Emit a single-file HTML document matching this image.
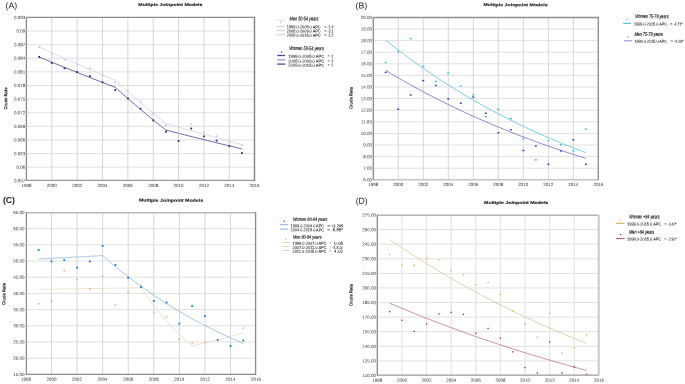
<!DOCTYPE html>
<html><head><meta charset="utf-8"><style>
html,body{margin:0;padding:0;background:#fff;width:685px;height:384px;overflow:hidden}
svg{display:block;will-change:transform;filter:blur(0.3px)}
text{font-family:"Liberation Sans", sans-serif;text-rendering:geometricPrecision}
</style></head><body>
<svg width="685" height="384" viewBox="0 0 685 384">
<rect width="685" height="384" fill="#fff"/>
<clipPath id="lh"><rect x="0" y="0" width="343" height="384"/></clipPath>
<line x1="26.40" y1="31.02" x2="254.50" y2="31.02" stroke="#e0e0e0" stroke-width="1"/>
<line x1="26.40" y1="44.63" x2="254.50" y2="44.63" stroke="#e0e0e0" stroke-width="1"/>
<line x1="26.40" y1="58.25" x2="254.50" y2="58.25" stroke="#e0e0e0" stroke-width="1"/>
<line x1="26.40" y1="71.87" x2="254.50" y2="71.87" stroke="#e0e0e0" stroke-width="1"/>
<line x1="26.40" y1="85.48" x2="254.50" y2="85.48" stroke="#e0e0e0" stroke-width="1"/>
<line x1="26.40" y1="99.10" x2="254.50" y2="99.10" stroke="#e0e0e0" stroke-width="1"/>
<line x1="26.40" y1="112.72" x2="254.50" y2="112.72" stroke="#e0e0e0" stroke-width="1"/>
<line x1="26.40" y1="126.33" x2="254.50" y2="126.33" stroke="#e0e0e0" stroke-width="1"/>
<line x1="26.40" y1="139.95" x2="254.50" y2="139.95" stroke="#e0e0e0" stroke-width="1"/>
<line x1="26.40" y1="153.57" x2="254.50" y2="153.57" stroke="#e0e0e0" stroke-width="1"/>
<line x1="26.40" y1="167.18" x2="254.50" y2="167.18" stroke="#e0e0e0" stroke-width="1"/>
<line x1="51.84" y1="17.40" x2="51.84" y2="180.40" stroke="#d6d6d6" stroke-width="1"/>
<line x1="77.19" y1="17.40" x2="77.19" y2="180.40" stroke="#d6d6d6" stroke-width="1"/>
<line x1="102.53" y1="17.40" x2="102.53" y2="180.40" stroke="#d6d6d6" stroke-width="1"/>
<line x1="127.88" y1="17.40" x2="127.88" y2="180.40" stroke="#d6d6d6" stroke-width="1"/>
<line x1="153.22" y1="17.40" x2="153.22" y2="180.40" stroke="#d6d6d6" stroke-width="1"/>
<line x1="178.57" y1="17.40" x2="178.57" y2="180.40" stroke="#d6d6d6" stroke-width="1"/>
<line x1="203.91" y1="17.40" x2="203.91" y2="180.40" stroke="#d6d6d6" stroke-width="1"/>
<line x1="229.26" y1="17.40" x2="229.26" y2="180.40" stroke="#d6d6d6" stroke-width="1"/>
<text x="25.20" y="19.00" text-anchor="end" font-size="4.5" fill="#333333" transform="rotate(0.2 25.20 19.00)">0.093</text>
<text x="25.20" y="32.62" text-anchor="end" font-size="4.5" fill="#333333" transform="rotate(0.2 25.20 32.62)">0.09</text>
<text x="25.20" y="46.23" text-anchor="end" font-size="4.5" fill="#333333" transform="rotate(0.2 25.20 46.23)">0.087</text>
<text x="25.20" y="59.85" text-anchor="end" font-size="4.5" fill="#333333" transform="rotate(0.2 25.20 59.85)">0.084</text>
<text x="25.20" y="73.47" text-anchor="end" font-size="4.5" fill="#333333" transform="rotate(0.2 25.20 73.47)">0.081</text>
<text x="25.20" y="87.08" text-anchor="end" font-size="4.5" fill="#333333" transform="rotate(0.2 25.20 87.08)">0.078</text>
<text x="25.20" y="100.70" text-anchor="end" font-size="4.5" fill="#333333" transform="rotate(0.2 25.20 100.70)">0.075</text>
<text x="25.20" y="114.32" text-anchor="end" font-size="4.5" fill="#333333" transform="rotate(0.2 25.20 114.32)">0.072</text>
<text x="25.20" y="127.93" text-anchor="end" font-size="4.5" fill="#333333" transform="rotate(0.2 25.20 127.93)">0.069</text>
<text x="25.20" y="141.55" text-anchor="end" font-size="4.5" fill="#333333" transform="rotate(0.2 25.20 141.55)">0.066</text>
<text x="25.20" y="155.17" text-anchor="end" font-size="4.5" fill="#333333" transform="rotate(0.2 25.20 155.17)">0.063</text>
<text x="25.20" y="168.78" text-anchor="end" font-size="4.5" fill="#333333" transform="rotate(0.2 25.20 168.78)">0.06</text>
<text x="25.20" y="182.40" text-anchor="end" font-size="4.5" fill="#333333" transform="rotate(0.2 25.20 182.40)">0.057</text>
<text x="26.50" y="187.10" text-anchor="middle" font-size="4.5" fill="#333333" transform="rotate(0.2 26.50 187.10)">1998</text>
<text x="51.84" y="187.10" text-anchor="middle" font-size="4.5" fill="#333333" transform="rotate(0.2 51.84 187.10)">2000</text>
<text x="77.19" y="187.10" text-anchor="middle" font-size="4.5" fill="#333333" transform="rotate(0.2 77.19 187.10)">2002</text>
<text x="102.53" y="187.10" text-anchor="middle" font-size="4.5" fill="#333333" transform="rotate(0.2 102.53 187.10)">2004</text>
<text x="127.88" y="187.10" text-anchor="middle" font-size="4.5" fill="#333333" transform="rotate(0.2 127.88 187.10)">2006</text>
<text x="153.22" y="187.10" text-anchor="middle" font-size="4.5" fill="#333333" transform="rotate(0.2 153.22 187.10)">2008</text>
<text x="178.57" y="187.10" text-anchor="middle" font-size="4.5" fill="#333333" transform="rotate(0.2 178.57 187.10)">2010</text>
<text x="203.91" y="187.10" text-anchor="middle" font-size="4.5" fill="#333333" transform="rotate(0.2 203.91 187.10)">2012</text>
<text x="229.26" y="187.10" text-anchor="middle" font-size="4.5" fill="#333333" transform="rotate(0.2 229.26 187.10)">2014</text>
<text x="254.60" y="187.10" text-anchor="middle" font-size="4.5" fill="#333333" transform="rotate(0.2 254.60 187.10)">2016</text>
<polyline points="39.17,47.00 42.97,48.73 46.78,50.45 50.58,52.17 54.38,53.88 58.18,55.58 61.98,57.27 65.78,58.96 69.59,60.63 73.39,62.30 77.19,63.97 80.99,65.62 84.79,67.27 88.59,68.91 92.40,70.55 96.20,72.17 100.00,73.79 103.80,75.41 107.60,77.01 111.40,78.61 115.21,80.20 115.21,80.20 117.74,82.50 120.27,84.78 122.81,87.05 125.34,89.31 127.88,91.55 130.41,93.78 132.95,95.99 135.48,98.19 138.02,100.37 140.55,102.54 143.08,104.70 145.62,106.84 148.15,108.97 150.69,111.09 153.22,113.19 155.76,115.28 158.29,117.35 160.83,119.42 163.36,121.46 165.89,123.50 165.89,123.50 169.70,124.59 173.50,125.68 177.30,126.76 181.10,127.84 184.90,128.91 188.70,129.98 192.51,131.05 196.31,132.12 200.11,133.18 203.91,134.23 207.71,135.29 211.51,136.33 215.32,137.38 219.12,138.42 222.92,139.46 226.72,140.50 230.52,141.53 234.32,142.56 238.13,143.58 241.93,144.60" fill="none" stroke="#c4d0e6" stroke-width="0.7"/>
<polyline points="39.17,57.00 42.97,58.58 46.78,60.14 50.58,61.71 54.38,63.26 58.18,64.81 61.98,66.35 65.78,67.89 69.59,69.42 73.39,70.94 77.19,72.46 80.99,73.97 84.79,75.48 88.59,76.98 92.40,78.47 96.20,79.96 100.00,81.44 103.80,82.91 107.60,84.38 111.40,85.84 115.21,87.30 115.21,87.30 117.74,89.57 120.27,91.83 122.81,94.08 125.34,96.31 127.88,98.53 130.41,100.73 132.95,102.91 135.48,105.09 138.02,107.25 140.55,109.39 143.08,111.52 145.62,113.64 148.15,115.75 150.69,117.84 153.22,119.91 155.76,121.98 158.29,124.03 160.83,126.07 163.36,128.09 165.89,130.10 165.89,130.10 169.70,131.07 173.50,132.03 177.30,133.00 181.10,133.95 184.90,134.91 188.70,135.86 192.51,136.81 196.31,137.76 200.11,138.71 203.91,139.65 207.71,140.59 211.51,141.52 215.32,142.45 219.12,143.38 222.92,144.31 226.72,145.23 230.52,146.15 234.32,147.07 238.13,147.99 241.93,148.90" fill="none" stroke="#505098" stroke-width="0.85"/>
<path d="M39.17,45.84L40.43,48.09L37.91,48.09Z" fill="#bcc8e2"/>
<path d="M51.84,52.54L53.10,54.79L50.58,54.79Z" fill="#bcc8e2"/>
<path d="M64.52,58.14L65.78,60.39L63.26,60.39Z" fill="#bcc8e2"/>
<path d="M77.19,62.94L78.45,65.19L75.93,65.19Z" fill="#bcc8e2"/>
<path d="M89.86,67.04L91.12,69.29L88.60,69.29Z" fill="#bcc8e2"/>
<path d="M102.53,73.54L103.79,75.79L101.27,75.79Z" fill="#bcc8e2"/>
<path d="M115.21,80.84L116.47,83.09L113.95,83.09Z" fill="#bcc8e2"/>
<path d="M127.88,89.94L129.14,92.19L126.62,92.19Z" fill="#bcc8e2"/>
<path d="M140.55,100.34L141.81,102.59L139.29,102.59Z" fill="#bcc8e2"/>
<path d="M153.22,112.04L154.48,114.29L151.96,114.29Z" fill="#bcc8e2"/>
<path d="M165.89,123.64L167.15,125.89L164.63,125.89Z" fill="#bcc8e2"/>
<path d="M178.57,132.34L179.83,134.59L177.31,134.59Z" fill="#bcc8e2"/>
<path d="M191.24,122.54L192.50,124.79L189.98,124.79Z" fill="#bcc8e2"/>
<path d="M203.91,130.84L205.17,133.09L202.65,133.09Z" fill="#bcc8e2"/>
<path d="M216.58,134.74L217.84,136.99L215.32,136.99Z" fill="#bcc8e2"/>
<path d="M229.26,140.64L230.52,142.89L228.00,142.89Z" fill="#bcc8e2"/>
<path d="M241.93,143.54L243.19,145.79L240.67,145.79Z" fill="#bcc8e2"/>
<rect x="38.27" y="56.00" width="1.80" height="1.80" fill="#2c2c7c"/>
<rect x="50.94" y="62.00" width="1.80" height="1.80" fill="#2c2c7c"/>
<rect x="63.62" y="67.40" width="1.80" height="1.80" fill="#2c2c7c"/>
<rect x="76.29" y="71.10" width="1.80" height="1.80" fill="#2c2c7c"/>
<rect x="88.96" y="75.20" width="1.80" height="1.80" fill="#2c2c7c"/>
<rect x="101.63" y="81.40" width="1.80" height="1.80" fill="#2c2c7c"/>
<rect x="114.31" y="89.10" width="1.80" height="1.80" fill="#2c2c7c"/>
<rect x="126.98" y="97.50" width="1.80" height="1.80" fill="#2c2c7c"/>
<rect x="139.65" y="107.80" width="1.80" height="1.80" fill="#2c2c7c"/>
<rect x="152.32" y="119.50" width="1.80" height="1.80" fill="#2c2c7c"/>
<rect x="164.99" y="130.80" width="1.80" height="1.80" fill="#2c2c7c"/>
<rect x="177.67" y="140.00" width="1.80" height="1.80" fill="#2c2c7c"/>
<rect x="190.34" y="127.60" width="1.80" height="1.80" fill="#2c2c7c"/>
<rect x="203.01" y="135.50" width="1.80" height="1.80" fill="#2c2c7c"/>
<rect x="215.68" y="139.70" width="1.80" height="1.80" fill="#2c2c7c"/>
<rect x="228.36" y="145.00" width="1.80" height="1.80" fill="#2c2c7c"/>
<rect x="241.03" y="152.20" width="1.80" height="1.80" fill="#2c2c7c"/>
<line x1="26.40" y1="17.40" x2="254.50" y2="17.40" stroke="#8c8c8c" stroke-width="1.3"/>
<line x1="26.40" y1="180.40" x2="254.50" y2="180.40" stroke="#999999" stroke-width="1.2"/>
<line x1="254.50" y1="16.80" x2="254.50" y2="181.00" stroke="#828282" stroke-width="1.4"/>
<line x1="26.40" y1="16.80" x2="26.40" y2="181.00" stroke="#8a8a8a" stroke-width="1.3"/>
<text x="138.30" y="5.90" font-size="4.2" font-weight="bold" fill="#1a1a1a" stroke="#1a1a1a" stroke-width="0.12" textLength="64.2" lengthAdjust="spacingAndGlyphs" transform="rotate(0.2 138.30 5.90)">Multiple Joinpoint Models</text>
<text x="5.6" y="8.5" font-size="8.7" fill="#222"  transform="rotate(0.2 5.6 8.5)">(A)</text>
<text transform="translate(7.2,98.5) rotate(-89.8)" x="-11" y="0" font-size="4.5" font-weight="bold" fill="#1a1a1a" stroke="#1a1a1a" stroke-width="0.08" textLength="22" lengthAdjust="spacingAndGlyphs">Crude Rate</text>
<line x1="373.30" y1="29.00" x2="598.30" y2="29.00" stroke="#e0e0e0" stroke-width="1"/>
<line x1="373.30" y1="40.60" x2="598.30" y2="40.60" stroke="#e0e0e0" stroke-width="1"/>
<line x1="373.30" y1="52.20" x2="598.30" y2="52.20" stroke="#e0e0e0" stroke-width="1"/>
<line x1="373.30" y1="63.80" x2="598.30" y2="63.80" stroke="#e0e0e0" stroke-width="1"/>
<line x1="373.30" y1="75.40" x2="598.30" y2="75.40" stroke="#e0e0e0" stroke-width="1"/>
<line x1="373.30" y1="87.00" x2="598.30" y2="87.00" stroke="#e0e0e0" stroke-width="1"/>
<line x1="373.30" y1="98.60" x2="598.30" y2="98.60" stroke="#e0e0e0" stroke-width="1"/>
<line x1="373.30" y1="110.20" x2="598.30" y2="110.20" stroke="#e0e0e0" stroke-width="1"/>
<line x1="373.30" y1="121.80" x2="598.30" y2="121.80" stroke="#e0e0e0" stroke-width="1"/>
<line x1="373.30" y1="133.40" x2="598.30" y2="133.40" stroke="#e0e0e0" stroke-width="1"/>
<line x1="373.30" y1="145.00" x2="598.30" y2="145.00" stroke="#e0e0e0" stroke-width="1"/>
<line x1="373.30" y1="156.60" x2="598.30" y2="156.60" stroke="#e0e0e0" stroke-width="1"/>
<line x1="373.30" y1="168.20" x2="598.30" y2="168.20" stroke="#e0e0e0" stroke-width="1"/>
<line x1="398.22" y1="17.50" x2="398.22" y2="179.70" stroke="#d6d6d6" stroke-width="1"/>
<line x1="423.24" y1="17.50" x2="423.24" y2="179.70" stroke="#d6d6d6" stroke-width="1"/>
<line x1="448.27" y1="17.50" x2="448.27" y2="179.70" stroke="#d6d6d6" stroke-width="1"/>
<line x1="473.29" y1="17.50" x2="473.29" y2="179.70" stroke="#d6d6d6" stroke-width="1"/>
<line x1="498.31" y1="17.50" x2="498.31" y2="179.70" stroke="#d6d6d6" stroke-width="1"/>
<line x1="523.33" y1="17.50" x2="523.33" y2="179.70" stroke="#d6d6d6" stroke-width="1"/>
<line x1="548.36" y1="17.50" x2="548.36" y2="179.70" stroke="#d6d6d6" stroke-width="1"/>
<line x1="573.38" y1="17.50" x2="573.38" y2="179.70" stroke="#d6d6d6" stroke-width="1"/>
<text x="371.90" y="19.00" text-anchor="end" font-size="4.5" fill="#333333" transform="rotate(0.2 371.90 19.00)">20.00</text>
<text x="371.90" y="30.60" text-anchor="end" font-size="4.5" fill="#333333" transform="rotate(0.2 371.90 30.60)">19.00</text>
<text x="371.90" y="42.20" text-anchor="end" font-size="4.5" fill="#333333" transform="rotate(0.2 371.90 42.20)">18.00</text>
<text x="371.90" y="53.80" text-anchor="end" font-size="4.5" fill="#333333" transform="rotate(0.2 371.90 53.80)">17.00</text>
<text x="371.90" y="65.40" text-anchor="end" font-size="4.5" fill="#333333" transform="rotate(0.2 371.90 65.40)">16.00</text>
<text x="371.90" y="77.00" text-anchor="end" font-size="4.5" fill="#333333" transform="rotate(0.2 371.90 77.00)">15.00</text>
<text x="371.90" y="88.60" text-anchor="end" font-size="4.5" fill="#333333" transform="rotate(0.2 371.90 88.60)">14.00</text>
<text x="371.90" y="100.20" text-anchor="end" font-size="4.5" fill="#333333" transform="rotate(0.2 371.90 100.20)">13.00</text>
<text x="371.90" y="111.80" text-anchor="end" font-size="4.5" fill="#333333" transform="rotate(0.2 371.90 111.80)">12.00</text>
<text x="371.90" y="123.40" text-anchor="end" font-size="4.5" fill="#333333" transform="rotate(0.2 371.90 123.40)">11.00</text>
<text x="371.90" y="135.00" text-anchor="end" font-size="4.5" fill="#333333" transform="rotate(0.2 371.90 135.00)">10.00</text>
<text x="371.90" y="146.60" text-anchor="end" font-size="4.5" fill="#333333" transform="rotate(0.2 371.90 146.60)">9.00</text>
<text x="371.90" y="158.20" text-anchor="end" font-size="4.5" fill="#333333" transform="rotate(0.2 371.90 158.20)">8.00</text>
<text x="371.90" y="169.80" text-anchor="end" font-size="4.5" fill="#333333" transform="rotate(0.2 371.90 169.80)">7.00</text>
<text x="371.90" y="181.40" text-anchor="end" font-size="4.5" fill="#333333" transform="rotate(0.2 371.90 181.40)">6.00</text>
<text x="373.20" y="186.10" text-anchor="middle" font-size="4.5" fill="#333333" transform="rotate(0.2 373.20 186.10)">1998</text>
<text x="398.22" y="186.10" text-anchor="middle" font-size="4.5" fill="#333333" transform="rotate(0.2 398.22 186.10)">2000</text>
<text x="423.24" y="186.10" text-anchor="middle" font-size="4.5" fill="#333333" transform="rotate(0.2 423.24 186.10)">2002</text>
<text x="448.27" y="186.10" text-anchor="middle" font-size="4.5" fill="#333333" transform="rotate(0.2 448.27 186.10)">2004</text>
<text x="473.29" y="186.10" text-anchor="middle" font-size="4.5" fill="#333333" transform="rotate(0.2 473.29 186.10)">2006</text>
<text x="498.31" y="186.10" text-anchor="middle" font-size="4.5" fill="#333333" transform="rotate(0.2 498.31 186.10)">2008</text>
<text x="523.33" y="186.10" text-anchor="middle" font-size="4.5" fill="#333333" transform="rotate(0.2 523.33 186.10)">2010</text>
<text x="548.36" y="186.10" text-anchor="middle" font-size="4.5" fill="#333333" transform="rotate(0.2 548.36 186.10)">2012</text>
<text x="573.38" y="186.10" text-anchor="middle" font-size="4.5" fill="#333333" transform="rotate(0.2 573.38 186.10)">2014</text>
<text x="598.40" y="186.10" text-anchor="middle" font-size="4.5" fill="#333333" transform="rotate(0.2 598.40 186.10)">2016</text>
<polyline points="385.71,40.14 391.97,45.12 398.22,49.99 404.48,54.75 410.73,59.38 416.99,63.91 423.24,68.33 429.50,72.65 435.76,76.86 442.01,80.97 448.27,84.99 454.52,88.91 460.78,92.73 467.03,96.47 473.29,100.11 479.54,103.67 485.80,107.14 492.06,110.53 498.31,113.84 504.57,117.07 510.82,120.23 517.08,123.31 523.33,126.31 529.59,129.25 535.84,132.11 542.10,134.91 548.36,137.63 554.61,140.30 560.87,142.90 567.12,145.44 573.38,147.91 579.63,150.33 585.89,152.69" fill="none" stroke="#58c8dc" stroke-width="0.8"/>
<polyline points="385.71,70.41 391.97,74.16 398.22,77.82 404.48,81.41 410.73,84.93 416.99,88.37 423.24,91.73 429.50,95.03 435.76,98.26 442.01,101.42 448.27,104.52 454.52,107.55 460.78,110.52 467.03,113.42 473.29,116.27 479.54,119.05 485.80,121.78 492.06,124.45 498.31,127.06 504.57,129.62 510.82,132.13 517.08,134.58 523.33,136.98 529.59,139.33 535.84,141.64 542.10,143.89 548.36,146.10 554.61,148.26 560.87,150.37 567.12,152.45 573.38,154.47 579.63,156.46 585.89,158.40" fill="none" stroke="#7a6cc8" stroke-width="0.8"/>
<rect x="384.71" y="71.70" width="2.00" height="1.40" fill="#3a3ad0"/>
<rect x="397.22" y="108.59" width="2.00" height="1.40" fill="#3a3ad0"/>
<rect x="409.73" y="94.21" width="2.00" height="1.40" fill="#3a3ad0"/>
<rect x="422.24" y="79.94" width="2.00" height="1.40" fill="#3a3ad0"/>
<rect x="434.76" y="84.81" width="2.00" height="1.40" fill="#3a3ad0"/>
<rect x="447.27" y="98.15" width="2.00" height="1.40" fill="#3a3ad0"/>
<rect x="459.78" y="102.44" width="2.00" height="1.40" fill="#3a3ad0"/>
<rect x="472.29" y="96.41" width="2.00" height="1.40" fill="#3a3ad0"/>
<rect x="484.80" y="112.53" width="2.00" height="1.40" fill="#3a3ad0"/>
<rect x="497.31" y="132.02" width="2.00" height="1.40" fill="#3a3ad0"/>
<rect x="509.82" y="129.01" width="2.00" height="1.40" fill="#3a3ad0"/>
<rect x="522.33" y="149.77" width="2.00" height="1.40" fill="#3a3ad0"/>
<rect x="534.84" y="145.36" width="2.00" height="1.40" fill="#3a3ad0"/>
<rect x="547.36" y="163.57" width="2.00" height="1.40" fill="#3a3ad0"/>
<rect x="559.87" y="150.23" width="2.00" height="1.40" fill="#3a3ad0"/>
<rect x="572.38" y="139.10" width="2.00" height="1.40" fill="#3a3ad0"/>
<rect x="584.89" y="163.57" width="2.00" height="1.40" fill="#3a3ad0"/>
<rect x="384.71" y="61.84" width="2.00" height="1.40" fill="#35c0e8"/>
<rect x="397.22" y="50.94" width="2.00" height="1.40" fill="#35c0e8"/>
<rect x="409.73" y="37.83" width="2.00" height="1.40" fill="#35c0e8"/>
<rect x="422.24" y="65.67" width="2.00" height="1.40" fill="#35c0e8"/>
<rect x="434.76" y="80.75" width="2.00" height="1.40" fill="#35c0e8"/>
<rect x="447.27" y="72.63" width="2.00" height="1.40" fill="#35c0e8"/>
<rect x="459.78" y="85.39" width="2.00" height="1.40" fill="#35c0e8"/>
<rect x="472.29" y="94.09" width="2.00" height="1.40" fill="#35c0e8"/>
<rect x="484.80" y="116.01" width="2.00" height="1.40" fill="#35c0e8"/>
<rect x="497.31" y="108.71" width="2.00" height="1.40" fill="#35c0e8"/>
<rect x="509.82" y="117.99" width="2.00" height="1.40" fill="#35c0e8"/>
<rect x="522.33" y="138.05" width="2.00" height="1.40" fill="#35c0e8"/>
<rect x="534.84" y="159.17" width="2.00" height="1.40" fill="#35c0e8"/>
<rect x="547.36" y="139.91" width="2.00" height="1.40" fill="#35c0e8"/>
<rect x="559.87" y="144.09" width="2.00" height="1.40" fill="#35c0e8"/>
<rect x="572.38" y="150.23" width="2.00" height="1.40" fill="#35c0e8"/>
<rect x="584.89" y="128.43" width="2.00" height="1.40" fill="#35c0e8"/>
<line x1="373.30" y1="17.50" x2="598.30" y2="17.50" stroke="#909090" stroke-width="1.3"/>
<line x1="373.30" y1="179.70" x2="598.30" y2="179.70" stroke="#c4c4c4" stroke-width="1.6"/>
<line x1="598.30" y1="16.90" x2="598.30" y2="180.30" stroke="#8a8a8a" stroke-width="1.3"/>
<line x1="373.30" y1="16.90" x2="373.30" y2="180.30" stroke="#8a8a8a" stroke-width="1.3"/>
<text x="483.40" y="6.10" font-size="4.2" font-weight="bold" fill="#1a1a1a" stroke="#1a1a1a" stroke-width="0.12" textLength="64.2" lengthAdjust="spacingAndGlyphs" transform="rotate(0.2 483.40 6.10)">Multiple Joinpoint Models</text>
<text x="355.6" y="8.6" font-size="8.7" fill="#222"  transform="rotate(0.2 355.6 8.6)">(B)</text>
<text transform="translate(352.6,98) rotate(-89.8)" x="-11" y="0" font-size="4.5" font-weight="bold" fill="#1a1a1a" stroke="#1a1a1a" stroke-width="0.08" textLength="22" lengthAdjust="spacingAndGlyphs">Crude Rate</text>
<line x1="26.40" y1="228.60" x2="255.60" y2="228.60" stroke="#e0e0e0" stroke-width="1"/>
<line x1="26.40" y1="244.80" x2="255.60" y2="244.80" stroke="#e0e0e0" stroke-width="1"/>
<line x1="26.40" y1="261.00" x2="255.60" y2="261.00" stroke="#e0e0e0" stroke-width="1"/>
<line x1="26.40" y1="277.20" x2="255.60" y2="277.20" stroke="#e0e0e0" stroke-width="1"/>
<line x1="26.40" y1="293.40" x2="255.60" y2="293.40" stroke="#e0e0e0" stroke-width="1"/>
<line x1="26.40" y1="309.60" x2="255.60" y2="309.60" stroke="#e0e0e0" stroke-width="1"/>
<line x1="26.40" y1="325.80" x2="255.60" y2="325.80" stroke="#e0e0e0" stroke-width="1"/>
<line x1="26.40" y1="342.00" x2="255.60" y2="342.00" stroke="#e0e0e0" stroke-width="1"/>
<line x1="26.40" y1="358.20" x2="255.60" y2="358.20" stroke="#e0e0e0" stroke-width="1"/>
<line x1="51.48" y1="212.70" x2="51.48" y2="374.30" stroke="#d6d6d6" stroke-width="1"/>
<line x1="77.06" y1="212.70" x2="77.06" y2="374.30" stroke="#d6d6d6" stroke-width="1"/>
<line x1="102.63" y1="212.70" x2="102.63" y2="374.30" stroke="#d6d6d6" stroke-width="1"/>
<line x1="128.21" y1="212.70" x2="128.21" y2="374.30" stroke="#d6d6d6" stroke-width="1"/>
<line x1="153.79" y1="212.70" x2="153.79" y2="374.30" stroke="#d6d6d6" stroke-width="1"/>
<line x1="179.37" y1="212.70" x2="179.37" y2="374.30" stroke="#d6d6d6" stroke-width="1"/>
<line x1="204.94" y1="212.70" x2="204.94" y2="374.30" stroke="#d6d6d6" stroke-width="1"/>
<line x1="230.52" y1="212.70" x2="230.52" y2="374.30" stroke="#d6d6d6" stroke-width="1"/>
<text x="24.60" y="214.00" text-anchor="end" font-size="4.5" fill="#333333" transform="rotate(0.2 24.60 214.00)">65.00</text>
<text x="24.60" y="230.20" text-anchor="end" font-size="4.5" fill="#333333" transform="rotate(0.2 24.60 230.20)">60.00</text>
<text x="24.60" y="246.40" text-anchor="end" font-size="4.5" fill="#333333" transform="rotate(0.2 24.60 246.40)">55.00</text>
<text x="24.60" y="262.60" text-anchor="end" font-size="4.5" fill="#333333" transform="rotate(0.2 24.60 262.60)">50.00</text>
<text x="24.60" y="278.80" text-anchor="end" font-size="4.5" fill="#333333" transform="rotate(0.2 24.60 278.80)">45.00</text>
<text x="24.60" y="295.00" text-anchor="end" font-size="4.5" fill="#333333" transform="rotate(0.2 24.60 295.00)">40.00</text>
<text x="24.60" y="311.20" text-anchor="end" font-size="4.5" fill="#333333" transform="rotate(0.2 24.60 311.20)">35.00</text>
<text x="24.60" y="327.40" text-anchor="end" font-size="4.5" fill="#333333" transform="rotate(0.2 24.60 327.40)">30.00</text>
<text x="24.60" y="343.60" text-anchor="end" font-size="4.5" fill="#333333" transform="rotate(0.2 24.60 343.60)">25.00</text>
<text x="24.60" y="359.80" text-anchor="end" font-size="4.5" fill="#333333" transform="rotate(0.2 24.60 359.80)">20.00</text>
<text x="24.60" y="376.00" text-anchor="end" font-size="4.5" fill="#333333" transform="rotate(0.2 24.60 376.00)">15.00</text>
<text x="25.90" y="380.70" text-anchor="middle" font-size="4.5" fill="#333333" transform="rotate(0.2 25.90 380.70)">1998</text>
<text x="51.48" y="380.70" text-anchor="middle" font-size="4.5" fill="#333333" transform="rotate(0.2 51.48 380.70)">2000</text>
<text x="77.06" y="380.70" text-anchor="middle" font-size="4.5" fill="#333333" transform="rotate(0.2 77.06 380.70)">2002</text>
<text x="102.63" y="380.70" text-anchor="middle" font-size="4.5" fill="#333333" transform="rotate(0.2 102.63 380.70)">2004</text>
<text x="128.21" y="380.70" text-anchor="middle" font-size="4.5" fill="#333333" transform="rotate(0.2 128.21 380.70)">2006</text>
<text x="153.79" y="380.70" text-anchor="middle" font-size="4.5" fill="#333333" transform="rotate(0.2 153.79 380.70)">2008</text>
<text x="179.37" y="380.70" text-anchor="middle" font-size="4.5" fill="#333333" transform="rotate(0.2 179.37 380.70)">2010</text>
<text x="204.94" y="380.70" text-anchor="middle" font-size="4.5" fill="#333333" transform="rotate(0.2 204.94 380.70)">2012</text>
<text x="230.52" y="380.70" text-anchor="middle" font-size="4.5" fill="#333333" transform="rotate(0.2 230.52 380.70)">2014</text>
<text x="256.10" y="380.70" text-anchor="middle" font-size="4.5" fill="#333333" transform="rotate(0.2 256.10 380.70)">2016</text>
<polyline points="38.69,289.40 43.80,289.32 48.92,289.24 54.04,289.16 59.15,289.08 64.27,289.00 69.38,288.92 74.50,288.84 79.61,288.76 84.73,288.68 89.84,288.60 94.96,288.52 100.08,288.44 105.19,288.36 110.31,288.28 115.42,288.20 120.54,288.12 125.65,288.04 130.77,287.96 135.88,287.88 141.00,287.80 141.00,287.80 143.56,291.54 146.12,295.18 148.67,298.72 151.23,302.17 153.79,305.51 156.35,308.76 158.90,311.93 161.46,315.00 164.02,317.99 166.58,320.90 169.14,323.73 171.69,326.48 174.25,329.15 176.81,331.75 179.37,334.28 181.92,336.73 184.48,339.12 187.04,341.45 189.60,343.70 192.16,345.90 192.16,345.90 194.71,345.30 197.27,344.70 199.83,344.09 202.39,343.48 204.94,342.86 207.50,342.24 210.06,341.61 212.62,340.98 215.18,340.34 217.73,339.70 220.29,339.05 222.85,338.40 225.41,337.74 227.96,337.08 230.52,336.41 233.08,335.74 235.64,335.06 238.20,334.38 240.75,333.69 243.31,333.00" fill="none" stroke="#ecdcc0" stroke-width="0.8"/>
<polyline points="38.69,259.00 41.89,258.83 45.08,258.66 48.28,258.49 51.48,258.33 54.67,258.16 57.87,257.99 61.07,257.82 64.27,257.65 67.46,257.48 70.66,257.31 73.86,257.14 77.06,256.97 80.25,256.80 83.45,256.63 86.65,256.46 89.84,256.29 93.04,256.11 96.24,255.94 99.44,255.77 102.63,255.60 102.63,255.60 109.67,261.71 116.70,267.59 123.74,273.26 130.77,278.73 137.80,283.99 144.84,289.06 151.87,293.95 158.90,298.66 165.94,303.19 172.97,307.57 180.01,311.78 187.04,315.84 194.07,319.75 201.11,323.51 208.14,327.14 215.18,330.64 222.21,334.01 229.24,337.26 236.28,340.39 243.31,343.40" fill="none" stroke="#84b8e4" stroke-width="0.75"/>
<rect x="37.84" y="302.99" width="1.70" height="1.70" fill="#e8b888"/>
<rect x="50.63" y="300.40" width="1.70" height="1.70" fill="#e8b888"/>
<rect x="63.42" y="269.62" width="1.70" height="1.70" fill="#e8b888"/>
<rect x="76.21" y="278.86" width="1.70" height="1.70" fill="#e8b888"/>
<rect x="88.99" y="288.09" width="1.70" height="1.70" fill="#e8b888"/>
<rect x="101.78" y="275.45" width="1.70" height="1.70" fill="#e8b888"/>
<rect x="114.57" y="304.29" width="1.70" height="1.70" fill="#e8b888"/>
<rect x="127.36" y="290.84" width="1.70" height="1.70" fill="#e8b888"/>
<rect x="140.15" y="284.85" width="1.70" height="1.70" fill="#e8b888"/>
<rect x="152.94" y="311.42" width="1.70" height="1.70" fill="#e8b888"/>
<rect x="165.73" y="316.28" width="1.70" height="1.70" fill="#e8b888"/>
<rect x="178.52" y="338.31" width="1.70" height="1.70" fill="#e8b888"/>
<rect x="191.31" y="342.52" width="1.70" height="1.70" fill="#e8b888"/>
<rect x="204.09" y="341.39" width="1.70" height="1.70" fill="#e8b888"/>
<rect x="242.46" y="327.29" width="1.70" height="1.70" fill="#e8b888"/>
<rect x="37.74" y="249.11" width="1.90" height="1.90" fill="#2585e8"/>
<rect x="50.53" y="260.45" width="1.90" height="1.90" fill="#2585e8"/>
<rect x="63.32" y="259.15" width="1.90" height="1.90" fill="#2585e8"/>
<rect x="76.11" y="266.61" width="1.90" height="1.90" fill="#2585e8"/>
<rect x="88.89" y="260.45" width="1.90" height="1.90" fill="#2585e8"/>
<rect x="101.68" y="244.90" width="1.90" height="1.90" fill="#2585e8"/>
<rect x="114.47" y="264.01" width="1.90" height="1.90" fill="#2585e8"/>
<rect x="127.26" y="276.81" width="1.90" height="1.90" fill="#2585e8"/>
<rect x="140.05" y="286.05" width="1.90" height="1.90" fill="#2585e8"/>
<rect x="152.84" y="299.98" width="1.90" height="1.90" fill="#2585e8"/>
<rect x="165.63" y="301.60" width="1.90" height="1.90" fill="#2585e8"/>
<rect x="178.42" y="322.66" width="1.90" height="1.90" fill="#2585e8"/>
<rect x="191.21" y="305.16" width="1.90" height="1.90" fill="#2585e8"/>
<rect x="203.99" y="315.21" width="1.90" height="1.90" fill="#2585e8"/>
<rect x="216.78" y="339.18" width="1.90" height="1.90" fill="#2585e8"/>
<rect x="229.57" y="345.01" width="1.90" height="1.90" fill="#2585e8"/>
<rect x="242.36" y="339.51" width="1.90" height="1.90" fill="#2585e8"/>
<line x1="26.40" y1="212.70" x2="255.60" y2="212.70" stroke="#b8b8b8" stroke-width="1.5"/>
<line x1="26.40" y1="374.30" x2="255.60" y2="374.30" stroke="#8a8a8a" stroke-width="1.3"/>
<line x1="255.60" y1="212.10" x2="255.60" y2="374.90" stroke="#8a8a8a" stroke-width="1.3"/>
<line x1="26.40" y1="212.10" x2="26.40" y2="374.90" stroke="#8c8c8c" stroke-width="1.3"/>
<text x="138.90" y="201.60" font-size="4.2" font-weight="bold" fill="#1a1a1a" stroke="#1a1a1a" stroke-width="0.12" textLength="64.2" lengthAdjust="spacingAndGlyphs" transform="rotate(0.2 138.90 201.60)">Multiple Joinpoint Models</text>
<text x="2.9" y="203.0" font-size="8.7" fill="#222" font-weight="bold" transform="rotate(0.2 2.9 203.0)">(C)</text>
<text transform="translate(5.4,294) rotate(-89.8)" x="-11" y="0" font-size="4.5" font-weight="bold" fill="#1a1a1a" stroke="#1a1a1a" stroke-width="0.08" textLength="22" lengthAdjust="spacingAndGlyphs">Crude Rate</text>
<line x1="377.30" y1="229.59" x2="598.70" y2="229.59" stroke="#e0e0e0" stroke-width="1"/>
<line x1="377.30" y1="244.18" x2="598.70" y2="244.18" stroke="#e0e0e0" stroke-width="1"/>
<line x1="377.30" y1="258.77" x2="598.70" y2="258.77" stroke="#e0e0e0" stroke-width="1"/>
<line x1="377.30" y1="273.36" x2="598.70" y2="273.36" stroke="#e0e0e0" stroke-width="1"/>
<line x1="377.30" y1="287.95" x2="598.70" y2="287.95" stroke="#e0e0e0" stroke-width="1"/>
<line x1="377.30" y1="302.55" x2="598.70" y2="302.55" stroke="#e0e0e0" stroke-width="1"/>
<line x1="377.30" y1="317.14" x2="598.70" y2="317.14" stroke="#e0e0e0" stroke-width="1"/>
<line x1="377.30" y1="331.73" x2="598.70" y2="331.73" stroke="#e0e0e0" stroke-width="1"/>
<line x1="377.30" y1="346.32" x2="598.70" y2="346.32" stroke="#e0e0e0" stroke-width="1"/>
<line x1="377.30" y1="360.91" x2="598.70" y2="360.91" stroke="#e0e0e0" stroke-width="1"/>
<line x1="401.92" y1="215.20" x2="401.92" y2="375.10" stroke="#e6e6e6" stroke-width="1.3"/>
<line x1="426.54" y1="215.20" x2="426.54" y2="375.10" stroke="#e6e6e6" stroke-width="1.3"/>
<line x1="451.17" y1="215.20" x2="451.17" y2="375.10" stroke="#e6e6e6" stroke-width="1.3"/>
<line x1="475.79" y1="215.20" x2="475.79" y2="375.10" stroke="#e6e6e6" stroke-width="1.3"/>
<line x1="500.41" y1="215.20" x2="500.41" y2="375.10" stroke="#e6e6e6" stroke-width="1.3"/>
<line x1="525.03" y1="215.20" x2="525.03" y2="375.10" stroke="#e6e6e6" stroke-width="1.3"/>
<line x1="549.66" y1="215.20" x2="549.66" y2="375.10" stroke="#e6e6e6" stroke-width="1.3"/>
<line x1="574.28" y1="215.20" x2="574.28" y2="375.10" stroke="#e6e6e6" stroke-width="1.3"/>
<text x="376.00" y="216.60" text-anchor="end" font-size="4.5" fill="#333333" transform="rotate(0.2 376.00 216.60)">275.00</text>
<text x="376.00" y="231.19" text-anchor="end" font-size="4.5" fill="#333333" transform="rotate(0.2 376.00 231.19)">260.00</text>
<text x="376.00" y="245.78" text-anchor="end" font-size="4.5" fill="#333333" transform="rotate(0.2 376.00 245.78)">245.00</text>
<text x="376.00" y="260.37" text-anchor="end" font-size="4.5" fill="#333333" transform="rotate(0.2 376.00 260.37)">230.00</text>
<text x="376.00" y="274.96" text-anchor="end" font-size="4.5" fill="#333333" transform="rotate(0.2 376.00 274.96)">215.00</text>
<text x="376.00" y="289.55" text-anchor="end" font-size="4.5" fill="#333333" transform="rotate(0.2 376.00 289.55)">200.00</text>
<text x="376.00" y="304.15" text-anchor="end" font-size="4.5" fill="#333333" transform="rotate(0.2 376.00 304.15)">185.00</text>
<text x="376.00" y="318.74" text-anchor="end" font-size="4.5" fill="#333333" transform="rotate(0.2 376.00 318.74)">170.00</text>
<text x="376.00" y="333.33" text-anchor="end" font-size="4.5" fill="#333333" transform="rotate(0.2 376.00 333.33)">155.00</text>
<text x="376.00" y="347.92" text-anchor="end" font-size="4.5" fill="#333333" transform="rotate(0.2 376.00 347.92)">140.00</text>
<text x="376.00" y="362.51" text-anchor="end" font-size="4.5" fill="#333333" transform="rotate(0.2 376.00 362.51)">125.00</text>
<text x="376.00" y="377.10" text-anchor="end" font-size="4.5" fill="#333333" transform="rotate(0.2 376.00 377.10)">110.00</text>
<text x="377.30" y="381.80" text-anchor="middle" font-size="4.5" fill="#333333" transform="rotate(0.2 377.30 381.80)">1998</text>
<text x="401.92" y="381.80" text-anchor="middle" font-size="4.5" fill="#333333" transform="rotate(0.2 401.92 381.80)">2000</text>
<text x="426.54" y="381.80" text-anchor="middle" font-size="4.5" fill="#333333" transform="rotate(0.2 426.54 381.80)">2002</text>
<text x="451.17" y="381.80" text-anchor="middle" font-size="4.5" fill="#333333" transform="rotate(0.2 451.17 381.80)">2004</text>
<text x="475.79" y="381.80" text-anchor="middle" font-size="4.5" fill="#333333" transform="rotate(0.2 475.79 381.80)">2006</text>
<text x="500.41" y="381.80" text-anchor="middle" font-size="4.5" fill="#333333" transform="rotate(0.2 500.41 381.80)">2008</text>
<text x="525.03" y="381.80" text-anchor="middle" font-size="4.5" fill="#333333" transform="rotate(0.2 525.03 381.80)">2010</text>
<text x="549.66" y="381.80" text-anchor="middle" font-size="4.5" fill="#333333" transform="rotate(0.2 549.66 381.80)">2012</text>
<text x="574.28" y="381.80" text-anchor="middle" font-size="4.5" fill="#333333" transform="rotate(0.2 574.28 381.80)">2014</text>
<text x="598.90" y="381.80" text-anchor="middle" font-size="4.5" fill="#333333" transform="rotate(0.2 598.90 381.80)">2016</text>
<polyline points="389.61,239.42 395.77,243.62 401.92,247.75 408.08,251.81 414.23,255.81 420.39,259.73 426.54,263.58 432.70,267.37 438.86,271.09 445.01,274.75 451.17,278.34 457.32,281.87 463.48,285.34 469.63,288.75 475.79,292.11 481.94,295.40 488.10,298.64 494.26,301.82 500.41,304.94 506.57,308.01 512.72,311.03 518.88,314.00 525.03,316.91 531.19,319.78 537.34,322.59 543.50,325.36 549.66,328.08 555.81,330.75 561.97,333.38 568.12,335.96 574.28,338.49 580.43,340.98 586.59,343.43" fill="none" stroke="#d8cc90" stroke-width="0.8"/>
<polyline points="389.61,303.13 395.77,305.75 401.92,308.33 408.08,310.87 414.23,313.38 420.39,315.85 426.54,318.29 432.70,320.68 438.86,323.05 445.01,325.38 451.17,327.67 457.32,329.93 463.48,332.16 469.63,334.36 475.79,336.52 481.94,338.65 488.10,340.76 494.26,342.83 500.41,344.87 506.57,346.88 512.72,348.86 518.88,350.81 525.03,352.73 531.19,354.63 537.34,356.50 543.50,358.34 549.66,360.15 555.81,361.94 561.97,363.70 568.12,365.43 574.28,367.14 580.43,368.83 586.59,370.49" fill="none" stroke="#b86878" stroke-width="0.7"/>
<rect x="388.96" y="253.84" width="1.30" height="1.30" fill="#d8b048"/>
<rect x="401.27" y="264.35" width="1.30" height="1.30" fill="#d8b048"/>
<rect x="413.58" y="264.83" width="1.30" height="1.30" fill="#d8b048"/>
<rect x="425.89" y="258.03" width="1.30" height="1.30" fill="#d8b048"/>
<rect x="438.21" y="259.29" width="1.30" height="1.30" fill="#d8b048"/>
<rect x="450.52" y="270.38" width="1.30" height="1.30" fill="#d8b048"/>
<rect x="462.83" y="274.46" width="1.30" height="1.30" fill="#d8b048"/>
<rect x="475.14" y="284.09" width="1.30" height="1.30" fill="#d8b048"/>
<rect x="487.45" y="281.95" width="1.30" height="1.30" fill="#d8b048"/>
<rect x="499.76" y="294.11" width="1.30" height="1.30" fill="#d8b048"/>
<rect x="512.07" y="310.46" width="1.30" height="1.30" fill="#d8b048"/>
<rect x="524.38" y="323.49" width="1.30" height="1.30" fill="#d8b048"/>
<rect x="536.69" y="336.52" width="1.30" height="1.30" fill="#d8b048"/>
<rect x="549.01" y="312.69" width="1.30" height="1.30" fill="#d8b048"/>
<rect x="561.32" y="352.57" width="1.30" height="1.30" fill="#d8b048"/>
<rect x="573.63" y="347.32" width="1.30" height="1.30" fill="#d8b048"/>
<rect x="585.94" y="334.19" width="1.30" height="1.30" fill="#d8b048"/>
<rect x="388.96" y="311.04" width="1.30" height="1.30" fill="#9a1e3c"/>
<rect x="401.27" y="319.60" width="1.30" height="1.30" fill="#9a1e3c"/>
<rect x="413.58" y="330.69" width="1.30" height="1.30" fill="#9a1e3c"/>
<rect x="425.89" y="323.39" width="1.30" height="1.30" fill="#9a1e3c"/>
<rect x="438.21" y="313.28" width="1.30" height="1.30" fill="#9a1e3c"/>
<rect x="450.52" y="311.72" width="1.30" height="1.30" fill="#9a1e3c"/>
<rect x="462.83" y="313.76" width="1.30" height="1.30" fill="#9a1e3c"/>
<rect x="475.14" y="332.63" width="1.30" height="1.30" fill="#9a1e3c"/>
<rect x="487.45" y="327.77" width="1.30" height="1.30" fill="#9a1e3c"/>
<rect x="499.76" y="337.59" width="1.30" height="1.30" fill="#9a1e3c"/>
<rect x="512.07" y="351.21" width="1.30" height="1.30" fill="#9a1e3c"/>
<rect x="524.38" y="366.97" width="1.30" height="1.30" fill="#9a1e3c"/>
<rect x="536.69" y="372.22" width="1.30" height="1.30" fill="#9a1e3c"/>
<rect x="549.01" y="341.29" width="1.30" height="1.30" fill="#9a1e3c"/>
<rect x="561.32" y="372.22" width="1.30" height="1.30" fill="#9a1e3c"/>
<rect x="573.63" y="366.19" width="1.30" height="1.30" fill="#9a1e3c"/>
<rect x="585.94" y="373.59" width="1.30" height="1.30" fill="#9a1e3c"/>
<line x1="377.30" y1="215.20" x2="598.70" y2="215.20" stroke="#b4b4b4" stroke-width="1.5"/>
<line x1="377.30" y1="375.10" x2="598.70" y2="375.10" stroke="#999999" stroke-width="1.2"/>
<line x1="598.70" y1="214.60" x2="598.70" y2="375.70" stroke="#c8c8c8" stroke-width="2.0"/>
<line x1="377.30" y1="214.60" x2="377.30" y2="375.70" stroke="#8a8a8a" stroke-width="1.3"/>
<text x="484.10" y="203.90" font-size="4.2" font-weight="bold" fill="#1a1a1a" stroke="#1a1a1a" stroke-width="0.12" textLength="64.2" lengthAdjust="spacingAndGlyphs" transform="rotate(0.2 484.10 203.90)">Multiple Joinpoint Models</text>
<text x="355.7" y="203.7" font-size="8.7" fill="#222"  transform="rotate(0.2 355.7 203.7)">(D)</text>
<text transform="translate(352.6,295) rotate(-89.8)" x="-11" y="0" font-size="4.5" font-weight="bold" fill="#1a1a1a" stroke="#1a1a1a" stroke-width="0.08" textLength="22" lengthAdjust="spacingAndGlyphs">Crude Rate</text>
<line x1="275.3" y1="20.1" x2="285.5" y2="20.1" stroke="#e4e4e4" stroke-width="1.0"/>
<rect x="280.05" y="21.75" width="0.9" height="0.9" fill="#7080c0"/>
<text x="289.60" y="20.40" font-size="5.4" font-style="italic" fill="#111" stroke="#111" stroke-width="0.14" textLength="28.90" lengthAdjust="spacingAndGlyphs" transform="rotate(0.2 289.60 20.40)">Men 50-54 years</text>
<line x1="276.4" y1="26.5" x2="284.8" y2="26.5" stroke="#a8b8d8" stroke-width="0.7"/>
<text x="286.80" y="28.30" font-size="4.3" fill="#1a1a1a" stroke="#1a1a1a" stroke-width="0.06" textLength="33.80" lengthAdjust="spacingAndGlyphs" transform="rotate(0.2 286.80 28.30)">1999.0-2005.0 APC</text>
<text x="324.20" y="28.30" font-size="4.3" fill="#1a1a1a" stroke="#1a1a1a" stroke-width="0.06" textLength="9.40" lengthAdjust="spacingAndGlyphs" transform="rotate(0.2 324.20 28.30)">= -1.4</text>
<line x1="276.4" y1="30.7" x2="284.8" y2="30.7" stroke="#a8b8d8" stroke-width="0.7"/>
<text x="286.80" y="32.50" font-size="4.3" fill="#1a1a1a" stroke="#1a1a1a" stroke-width="0.06" textLength="33.80" lengthAdjust="spacingAndGlyphs" transform="rotate(0.2 286.80 32.50)">2005.0-2009.0 APC</text>
<text x="324.20" y="32.50" font-size="4.3" fill="#1a1a1a" stroke="#1a1a1a" stroke-width="0.06" textLength="9.40" lengthAdjust="spacingAndGlyphs" transform="rotate(0.2 324.20 32.50)">= -3.1</text>
<line x1="276.4" y1="34.8" x2="284.8" y2="34.8" stroke="#a8b8d8" stroke-width="0.7"/>
<text x="286.80" y="36.60" font-size="4.3" fill="#1a1a1a" stroke="#1a1a1a" stroke-width="0.06" textLength="33.80" lengthAdjust="spacingAndGlyphs" transform="rotate(0.2 286.80 36.60)">2009.0-2015.0 APC</text>
<text x="324.20" y="36.60" font-size="4.3" fill="#1a1a1a" stroke="#1a1a1a" stroke-width="0.06" textLength="9.40" lengthAdjust="spacingAndGlyphs" transform="rotate(0.2 324.20 36.60)">= -1.1</text>
<rect x="281.0" y="51.4" width="1.2" height="1.2" fill="#2e2e86"/>
<text x="289.30" y="50.10" font-size="5.4" font-style="italic" fill="#111" stroke="#111" stroke-width="0.14" textLength="34.50" lengthAdjust="spacingAndGlyphs" transform="rotate(0.2 289.30 50.10)">Women 50-54 years</text>
<line x1="277.2" y1="55.5" x2="285.2" y2="55.5" stroke="#4a4a92" stroke-width="1.3"/>
<text x="288.30" y="57.70" font-size="4.3" fill="#1a1a1a" stroke="#1a1a1a" stroke-width="0.06" textLength="36.00" lengthAdjust="spacingAndGlyphs" transform="rotate(0.2 288.30 57.70)">1999.0-2005.0 APC</text>
<text x="327.70" y="57.70" font-size="4.3" fill="#1a1a1a" stroke="#1a1a1a" stroke-width="0.06" textLength="5.50" lengthAdjust="spacingAndGlyphs" transform="rotate(0.2 327.70 57.70)">= -1</text>
<line x1="277.2" y1="59.9" x2="285.2" y2="59.9" stroke="#9494c4" stroke-width="1.3"/>
<text x="288.30" y="62.40" font-size="4.3" fill="#1a1a1a" stroke="#1a1a1a" stroke-width="0.06" textLength="36.00" lengthAdjust="spacingAndGlyphs" transform="rotate(0.2 288.30 62.40)">2005.0-2009.0 APC</text>
<text x="327.70" y="62.40" font-size="4.3" fill="#1a1a1a" stroke="#1a1a1a" stroke-width="0.06" textLength="5.50" lengthAdjust="spacingAndGlyphs" transform="rotate(0.2 327.70 62.40)">= -3</text>
<line x1="277.2" y1="64.1" x2="285.2" y2="64.1" stroke="#4a4a92" stroke-width="1.3"/>
<text x="288.30" y="66.60" font-size="4.3" fill="#1a1a1a" stroke="#1a1a1a" stroke-width="0.06" textLength="36.00" lengthAdjust="spacingAndGlyphs" transform="rotate(0.2 288.30 66.60)">2009.0-2015.0 APC</text>
<text x="327.70" y="66.60" font-size="4.3" fill="#1a1a1a" stroke="#1a1a1a" stroke-width="0.06" textLength="5.50" lengthAdjust="spacingAndGlyphs" transform="rotate(0.2 327.70 66.60)">= -1</text>
<rect x="626.4" y="18.7" width="1.2" height="1.2" fill="#35c0e8"/>
<text x="635.20" y="18.10" font-size="5.4" font-style="italic" fill="#111" stroke="#111" stroke-width="0.14" textLength="33.40" lengthAdjust="spacingAndGlyphs" transform="rotate(0.2 635.20 18.10)">Women 75-79 years</text>
<line x1="623.1" y1="23.4" x2="631" y2="23.4" stroke="#50c0d8" stroke-width="1.1"/>
<text x="634.00" y="25.40" font-size="4.3" fill="#1a1a1a" stroke="#1a1a1a" stroke-width="0.06" textLength="32.90" lengthAdjust="spacingAndGlyphs" transform="rotate(0.2 634.00 25.40)">1999.0-2015.0 APC</text>
<text x="670.20" y="25.40" font-size="4.3" fill="#1a1a1a" stroke="#1a1a1a" stroke-width="0.06" textLength="12.80" lengthAdjust="spacingAndGlyphs" transform="rotate(0.2 670.20 25.40)">= -4.71*</text>
<rect x="627.3000000000001" y="36.35" width="1.6" height="1.3" fill="#9a98d8"/>
<text x="634.40" y="35.90" font-size="5.4" font-style="italic" fill="#111" stroke="#111" stroke-width="0.14" textLength="28.40" lengthAdjust="spacingAndGlyphs" transform="rotate(0.2 634.40 35.90)">Men 75-79 years</text>
<line x1="624" y1="40.8" x2="631.9" y2="40.8" stroke="#a8a8dc" stroke-width="1.4"/>
<text x="634.40" y="42.70" font-size="4.3" fill="#1a1a1a" stroke="#1a1a1a" stroke-width="0.06" textLength="32.60" lengthAdjust="spacingAndGlyphs" transform="rotate(0.2 634.40 42.70)">1999.0-2015.0 APC</text>
<text x="670.70" y="42.70" font-size="4.3" fill="#1a1a1a" stroke="#1a1a1a" stroke-width="0.06" textLength="12.90" lengthAdjust="spacingAndGlyphs" transform="rotate(0.2 670.70 42.70)">= -4.16*</text>
<g clip-path="url(#lh)">
<rect x="283.6" y="220.60000000000002" width="1.4" height="1.4" fill="#2b7de0"/>
<text x="293.00" y="220.90" font-size="5.0" font-style="italic" fill="#111" stroke="#111" stroke-width="0.14" textLength="34.50" lengthAdjust="spacingAndGlyphs" transform="rotate(0.2 293.00 220.90)">Women 80-84 years</text>
<line x1="279.9" y1="224.7" x2="288.2" y2="224.7" stroke="#80b4e4" stroke-width="1.0"/>
<text x="290.60" y="227.20" font-size="4.3" fill="#1a1a1a" stroke="#1a1a1a" stroke-width="0.06" textLength="33.40" lengthAdjust="spacingAndGlyphs" transform="rotate(0.2 290.60 227.20)">1999.0-2004.0 APC</text>
<text x="327.30" y="227.20" font-size="4.3" fill="#1a1a1a" stroke="#1a1a1a" stroke-width="0.06" textLength="15.80" lengthAdjust="spacingAndGlyphs" transform="rotate(0.2 327.30 227.20)">=  0.36</text>
<line x1="279.9" y1="229.1" x2="288.2" y2="229.1" stroke="#80b4e4" stroke-width="1.0"/>
<text x="290.60" y="231.30" font-size="4.3" fill="#1a1a1a" stroke="#1a1a1a" stroke-width="0.06" textLength="33.40" lengthAdjust="spacingAndGlyphs" transform="rotate(0.2 290.60 231.30)">2004.0-2015.0 APC</text>
<text x="327.30" y="231.30" font-size="4.3" fill="#1a1a1a" stroke="#1a1a1a" stroke-width="0.06" textLength="15.80" lengthAdjust="spacingAndGlyphs" transform="rotate(0.2 327.30 231.30)">= -5.55*</text>
<rect x="285.2" y="238.70000000000002" width="1.2" height="1.2" fill="#e0b070"/>
<text x="293.00" y="238.70" font-size="5.0" font-style="italic" fill="#111" stroke="#111" stroke-width="0.14" textLength="28.60" lengthAdjust="spacingAndGlyphs" transform="rotate(0.2 293.00 238.70)">Men 80-84 years</text>
<line x1="282.4" y1="242.5" x2="289.7" y2="242.5" stroke="#dccaa0" stroke-width="0.8"/>
<text x="292.50" y="244.70" font-size="4.3" fill="#1a1a1a" stroke="#1a1a1a" stroke-width="0.06" textLength="34.00" lengthAdjust="spacingAndGlyphs" transform="rotate(0.2 292.50 244.70)">1999.0-2007.0 APC</text>
<text x="329.70" y="244.70" font-size="4.3" fill="#1a1a1a" stroke="#1a1a1a" stroke-width="0.06" textLength="0.90" lengthAdjust="spacingAndGlyphs" transform="rotate(0.2 329.70 244.70)">=</text>
<text x="334.10" y="244.70" font-size="4.3" fill="#1a1a1a" stroke="#1a1a1a" stroke-width="0.06" textLength="9.00" lengthAdjust="spacingAndGlyphs" transform="rotate(0.2 334.10 244.70)">0.05</text>
<line x1="282.4" y1="246.6" x2="289.7" y2="246.6" stroke="#dccaa0" stroke-width="0.8"/>
<text x="292.50" y="248.90" font-size="4.3" fill="#1a1a1a" stroke="#1a1a1a" stroke-width="0.06" textLength="34.00" lengthAdjust="spacingAndGlyphs" transform="rotate(0.2 292.50 248.90)">2007.0-2011.0 APC</text>
<text x="329.70" y="248.90" font-size="4.3" fill="#1a1a1a" stroke="#1a1a1a" stroke-width="0.06" textLength="0.90" lengthAdjust="spacingAndGlyphs" transform="rotate(0.2 329.70 248.90)">=</text>
<text x="331.70" y="248.90" font-size="4.3" fill="#1a1a1a" stroke="#1a1a1a" stroke-width="0.06" textLength="13.40" lengthAdjust="spacingAndGlyphs" transform="rotate(0.2 331.70 248.90)">-13.03</text>
<line x1="282.4" y1="250.5" x2="289.7" y2="250.5" stroke="#dccaa0" stroke-width="0.8"/>
<text x="292.50" y="252.70" font-size="4.3" fill="#1a1a1a" stroke="#1a1a1a" stroke-width="0.06" textLength="34.00" lengthAdjust="spacingAndGlyphs" transform="rotate(0.2 292.50 252.70)">2011.0-2015.0 APC</text>
<text x="329.70" y="252.70" font-size="4.3" fill="#1a1a1a" stroke="#1a1a1a" stroke-width="0.06" textLength="0.90" lengthAdjust="spacingAndGlyphs" transform="rotate(0.2 329.70 252.70)">=</text>
<text x="334.10" y="252.70" font-size="4.3" fill="#1a1a1a" stroke="#1a1a1a" stroke-width="0.06" textLength="9.00" lengthAdjust="spacingAndGlyphs" transform="rotate(0.2 334.10 252.70)">4.02</text>
</g>
<rect x="620.0" y="218.9" width="1.0" height="1.0" fill="#d8b040"/>
<text x="629.20" y="218.40" font-size="5.4" font-style="italic" fill="#111" stroke="#111" stroke-width="0.14" textLength="30.40" lengthAdjust="spacingAndGlyphs" transform="rotate(0.2 629.20 218.40)">Women +84 years</text>
<line x1="616" y1="223.3" x2="624.6" y2="223.3" stroke="#c8b050" stroke-width="1.1"/>
<text x="627.10" y="225.50" font-size="4.3" fill="#1a1a1a" stroke="#1a1a1a" stroke-width="0.06" textLength="34.10" lengthAdjust="spacingAndGlyphs" transform="rotate(0.2 627.10 225.50)">1999.0-2015.0 APC</text>
<text x="664.60" y="225.50" font-size="4.3" fill="#1a1a1a" stroke="#1a1a1a" stroke-width="0.06" textLength="12.00" lengthAdjust="spacingAndGlyphs" transform="rotate(0.2 664.60 225.50)">= -3.43*</text>
<rect x="620.0" y="234.0" width="1.0" height="1.0" fill="#9a1e3c"/>
<text x="629.20" y="233.80" font-size="5.4" font-style="italic" fill="#111" stroke="#111" stroke-width="0.14" textLength="25.00" lengthAdjust="spacingAndGlyphs" transform="rotate(0.2 629.20 233.80)">Men +84 years</text>
<line x1="616" y1="238.6" x2="624.6" y2="238.6" stroke="#a85a6a" stroke-width="1.1"/>
<text x="627.10" y="240.40" font-size="4.3" fill="#1a1a1a" stroke="#1a1a1a" stroke-width="0.06" textLength="34.10" lengthAdjust="spacingAndGlyphs" transform="rotate(0.2 627.10 240.40)">1999.0-2015.0 APC</text>
<text x="664.60" y="240.40" font-size="4.3" fill="#1a1a1a" stroke="#1a1a1a" stroke-width="0.06" textLength="12.00" lengthAdjust="spacingAndGlyphs" transform="rotate(0.2 664.60 240.40)">= -2.90*</text>
</svg></body></html>
